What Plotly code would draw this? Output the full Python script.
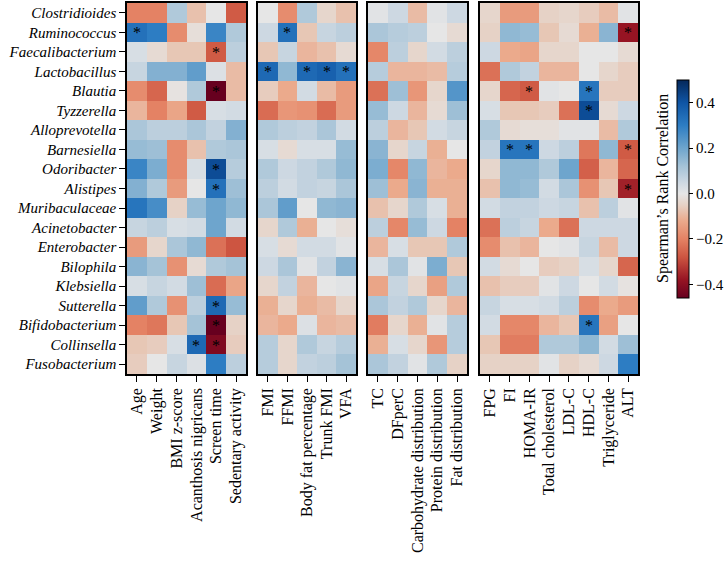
import plotly.graph_objects as go

genera = ["Clostridioides", "Ruminococcus", "Faecalibacterium", "Lactobacillus", "Blautia",
          "Tyzzerella", "Alloprevotella", "Barnesiella", "Odoribacter", "Alistipes",
          "Muribaculaceae", "Acinetobacter", "Enterobacter", "Bilophila", "Klebsiella",
          "Sutterella", "Bifidobacterium", "Collinsella", "Fusobacterium"]

cols1 = ["Age", "Weight", "BMI z-score", "Acanthosis nigricans", "Screen time", "Sedentary activity"]
cols2 = ["FMI", "FFMI", "Body fat percentage", "Trunk FMI", "VFA"]
cols3 = ["TC", "DFperC", "Carbohydrate distribution", "Protein distribution", "Fat distribution"]
cols4 = ["FPG", "FI", "HOMA-IR", "Total cholesterol", "LDL-C", "HDL-C", "Triglyceride", "ALT"]

vals1 = [
    [-0.20, -0.20, 0.10, -0.08, 0.00, -0.27],
    [0.33, 0.30, -0.18, -0.02, 0.28, 0.10],
    [0.03, -0.03, -0.07, -0.07, -0.27, 0.08],
    [0.06, 0.17, 0.17, 0.22, 0.02, -0.09],
    [-0.18, -0.25, -0.01, 0.10, -0.46, -0.09],
    [-0.10, -0.20, -0.13, -0.27, 0.03, 0.04],
    [0.11, 0.08, 0.08, 0.11, 0.07, 0.17],
    [0.14, 0.13, -0.18, -0.08, 0.10, 0.11],
    [0.28, 0.18, -0.18, 0.03, 0.42, 0.09],
    [0.17, 0.10, -0.15, 0.00, 0.33, 0.13],
    [0.32, 0.26, -0.05, 0.14, 0.20, 0.15],
    [0.06, 0.08, 0.03, 0.04, 0.20, 0.04],
    [-0.15, -0.04, 0.11, 0.15, -0.23, -0.28],
    [0.16, 0.12, -0.17, -0.03, 0.10, 0.12],
    [0.03, 0.06, 0.04, 0.13, -0.24, -0.13],
    [0.22, 0.10, -0.17, 0.08, 0.35, 0.14],
    [-0.20, -0.22, -0.07, 0.12, -0.48, -0.05],
    [-0.07, -0.06, 0.03, 0.35, -0.42, -0.06],
    [-0.06, 0.00, 0.06, 0.02, 0.30, 0.08],
]
vals2 = [
    [0.00, -0.18, 0.10, -0.04, -0.08],
    [0.05, 0.33, -0.07, 0.06, 0.08],
    [-0.07, 0.06, -0.10, -0.08, -0.03],
    [0.35, 0.15, 0.35, 0.37, 0.33],
    [-0.06, -0.12, 0.04, -0.09, -0.15],
    [-0.24, -0.16, -0.17, -0.24, -0.15],
    [0.10, 0.08, 0.07, 0.11, 0.04],
    [0.03, -0.03, 0.03, 0.03, 0.14],
    [0.10, 0.05, 0.07, 0.10, 0.15],
    [0.08, 0.04, 0.07, 0.06, 0.11],
    [0.11, 0.22, 0.00, 0.15, 0.16],
    [-0.04, 0.10, -0.11, 0.00, -0.02],
    [0.03, -0.03, 0.04, 0.04, 0.01],
    [0.05, 0.11, 0.01, 0.07, 0.16],
    [-0.04, 0.07, -0.10, 0.00, 0.01],
    [-0.11, -0.04, -0.11, -0.09, -0.04],
    [-0.10, -0.12, 0.02, -0.10, -0.09],
    [0.09, -0.04, 0.10, 0.06, 0.09],
    [0.09, -0.04, 0.07, 0.08, 0.12],
]
vals3 = [
    [0.01, 0.05, -0.09, 0.01, 0.05],
    [0.11, 0.09, 0.08, 0.00, -0.03],
    [-0.19, 0.08, -0.04, 0.04, 0.08],
    [0.09, -0.10, -0.10, -0.09, 0.09],
    [-0.23, 0.13, -0.16, -0.04, 0.24],
    [0.14, 0.05, -0.10, -0.03, 0.13],
    [0.08, -0.10, -0.07, 0.04, 0.06],
    [0.16, -0.04, 0.06, -0.11, 0.00],
    [0.18, -0.19, 0.15, -0.10, -0.12],
    [0.13, -0.12, 0.16, -0.11, -0.11],
    [-0.08, -0.04, 0.10, 0.03, -0.11],
    [0.08, -0.19, 0.14, 0.05, -0.20],
    [-0.10, 0.03, -0.07, -0.07, 0.10],
    [0.03, 0.11, 0.01, 0.18, -0.07],
    [-0.13, 0.06, -0.04, -0.14, 0.10],
    [0.11, 0.07, 0.10, -0.04, -0.10],
    [-0.21, -0.04, -0.11, 0.01, 0.09],
    [-0.11, 0.03, -0.04, -0.16, 0.09],
    [0.11, 0.07, 0.01, 0.10, -0.05],
]
vals4 = [
    [-0.04, -0.15, -0.15, -0.05, -0.04, -0.06, -0.09, 0.01],
    [-0.05, 0.15, 0.14, -0.07, -0.03, -0.11, 0.16, -0.38],
    [0.05, -0.12, -0.13, -0.04, -0.04, 0.00, 0.00, -0.03],
    [-0.23, 0.10, 0.07, -0.10, -0.10, 0.00, -0.04, -0.06],
    [-0.04, -0.25, -0.27, 0.01, 0.00, 0.32, -0.06, -0.06],
    [0.03, -0.07, -0.07, -0.06, -0.23, 0.42, -0.03, 0.05],
    [0.10, -0.03, -0.02, -0.02, 0.01, 0.01, -0.09, 0.10],
    [0.07, 0.32, 0.32, 0.05, 0.08, -0.22, 0.15, -0.27],
    [-0.04, 0.15, 0.15, 0.10, 0.20, -0.26, -0.10, -0.25],
    [-0.08, 0.15, 0.14, 0.04, 0.11, -0.17, -0.07, -0.36],
    [0.04, 0.07, 0.07, 0.05, 0.06, -0.08, 0.08, 0.01],
    [-0.23, 0.08, 0.06, -0.12, -0.23, 0.05, 0.05, 0.05],
    [-0.18, -0.08, -0.10, 0.00, 0.01, 0.06, -0.09, 0.05],
    [0.04, -0.03, 0.00, -0.06, -0.05, 0.03, -0.04, -0.25],
    [-0.08, -0.06, -0.06, 0.01, 0.05, 0.00, 0.04, -0.01],
    [0.06, 0.03, 0.03, 0.04, 0.08, -0.18, -0.12, -0.15],
    [0.04, -0.19, -0.19, -0.10, -0.07, 0.32, -0.14, 0.00],
    [-0.07, -0.21, -0.21, 0.10, 0.10, 0.15, 0.04, 0.13],
    [-0.05, -0.05, -0.05, 0.01, -0.05, -0.03, 0.05, 0.30],
]

# significance marks (row index, column index)
sig1 = [(1, 0), (2, 4), (4, 4), (8, 4), (9, 4), (15, 4), (16, 4), (17, 3), (17, 4)]
sig2 = [(1, 1), (3, 0), (3, 2), (3, 3), (3, 4)]
sig3 = []
sig4 = [(1, 7), (4, 2), (4, 5), (5, 5), (7, 1), (7, 2), (7, 7), (9, 7), (16, 5)]

zmin, zmax = -0.46, 0.50
stops = [(-0.46, (103, 0, 31)), (-0.38, (150, 20, 35)), (-0.28, (205, 85, 65)),
         (-0.20, (228, 130, 100)), (-0.12, (235, 170, 140)), (-0.05, (230, 210, 198)),
         (0.0, (230, 230, 230)), (0.05, (205, 216, 226)), (0.12, (165, 195, 215)),
         (0.20, (110, 165, 205)), (0.30, (45, 125, 195)), (0.40, (15, 85, 165)),
         (0.50, (5, 40, 90))]
colorscale = [[(v - zmin) / (zmax - zmin), "rgb(%d,%d,%d)" % c] for v, c in stops]

FONT = "Liberation Serif"
W, H = 727, 566
ml, mr, mt, mb = 127, 89, 3, 192
pw = W - ml - mr
ph = H - mt - mb
px_ranges = [(127, 246), (258, 356), (368, 467), (480, 638)]
domains = [[(a - ml) / pw, (b - ml) / pw] for a, b in px_ranges]

fig = go.Figure()
panels = [(cols1, vals1, sig1), (cols2, vals2, sig2), (cols3, vals3, sig3), (cols4, vals4, sig4)]
for i, (cols, vals, sig) in enumerate(panels):
    text = [["" for _ in cols] for _ in genera]
    for r, c in sig:
        text[r][c] = "*"
    xa = "x" if i == 0 else "x%d" % (i + 1)
    ya = "y" if i == 0 else "y%d" % (i + 1)
    fig.add_trace(go.Heatmap(
        z=vals, x=cols, y=genera, text=text, texttemplate="%{text}",
        textfont=dict(family=FONT, size=16, color="black"),
        colorscale=colorscale, zmin=zmin, zmax=zmax,
        showscale=(i == 0), xaxis=xa, yaxis=ya,
        colorbar=dict(
            x=(677 - ml) / pw, xanchor="left", xpad=0, thickness=12, thicknessmode="pixels",
            len=218, lenmode="pixels", y=(ph - (189 - mt)) / ph, yanchor="middle", ypad=0,
            tickvals=[-0.4, -0.2, 0.0, 0.2, 0.4], tickformat=".1f",
            ticks="outside", ticklen=4, tickcolor="black",
            outlinecolor="black", outlinewidth=1,
            tickfont=dict(family=FONT, size=15, color="black"),
        ),
    ))

axis_common = dict(showline=True, linecolor="black", linewidth=1.5, mirror=True,
                   ticks="outside", ticklen=6, tickcolor="black", showgrid=False,
                   zeroline=False, automargin=False)
layout = dict(
    width=W, height=H, margin=dict(l=ml, r=mr, t=mt, b=mb, autoexpand=False),
    paper_bgcolor="white", plot_bgcolor="white",
    font=dict(family=FONT, size=16, color="black"),
    yaxis=dict(autorange="reversed", tickfont=dict(family=FONT, size=15, style="italic"),
               tickmode="array", tickvals=genera, ticktext=genera,
               domain=[0, 1], **axis_common),
)
for i, (d, (cols, _, _)) in enumerate(zip(domains, panels)):
    key = "xaxis" if i == 0 else "xaxis%d" % (i + 1)
    yref = "y" if i == 0 else "y%d" % (i + 1)
    layout[key] = dict(domain=d, anchor=yref, tickangle=-90,
                       tickmode="array", tickvals=cols, ticktext=cols,
                       tickfont=dict(family=FONT, size=16), **axis_common)
for i in range(1, 4):
    layout["yaxis%d" % (i + 1)] = dict(autorange="reversed", anchor="x%d" % (i + 1),
                                       matches="y", showticklabels=False, ticks="",
                                       showline=True, linecolor="black", linewidth=1.5,
                                       mirror=True, showgrid=False, zeroline=False,
                                       automargin=False, domain=[0, 1])
fig.update_layout(**layout)

fig.add_annotation(text="Spearman\u2019s Rank Correlation", textangle=-90,
                   x=(663 - ml) / pw, xref="paper", xanchor="center",
                   y=(ph - (189 - mt)) / ph, yref="paper", yanchor="middle",
                   showarrow=False, font=dict(family=FONT, size=16, color="black"))

fig.write_html("out.html", config={"displayModeBar": False},
               post_script="document.body.style.margin='0';")
